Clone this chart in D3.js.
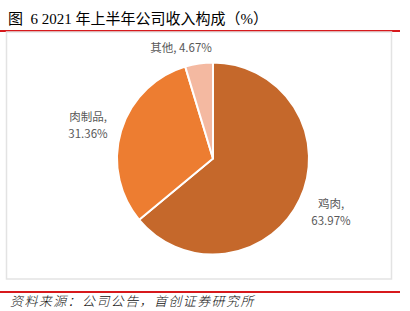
<!DOCTYPE html>
<html><head><meta charset="utf-8">
<script src="https://cdn.jsdelivr.net/npm/d3@7"></script>
<style>html,body{margin:0;padding:0;background:#fff;} text{white-space:pre;}</style>
</head><body>
<script>
const categories = ["鸡肉", "肉制品", "其他"];
const values = [63.97, 31.36, 4.67];
const labels = ["63.97%", "31.36%", "4.67%"];
const colors = ["#C5682B", "#ED7D31", "#F4B9A1"];

const W = 410, H = 311;
const svg = d3.select("body").append("svg").attr("width", W).attr("height", H);

// title
svg.append("text").attr("x", 8).attr("y", 24)
  .attr("font-family", "'Liberation Serif','Noto Sans CJK SC',serif")
  .attr("font-size", 15).attr("fill", "#000")
  .text("图  6 2021 年上半年公司收入构成（%）");
svg.append("line").attr("x1", 0).attr("x2", 400).attr("y1", 31).attr("y2", 31)
  .attr("stroke", "#D7191C").attr("stroke-width", 2);

// frame
svg.append("rect").attr("x", 6.5).attr("y", 32).attr("width", 385).attr("height", 247)
  .attr("fill", "none").attr("stroke", "#E3E3E3").attr("stroke-width", 1.5);

// pie
const cx = 213, cy = 158.5, r = 96;
const pie = d3.pie().sort(null).value(d => d)(values);
const arc = d3.arc().innerRadius(0).outerRadius(r);
const g = svg.append("g").attr("transform", `translate(${cx},${cy})`);
g.selectAll("path").data(pie).join("path")
  .attr("d", arc)
  .attr("fill", (d, i) => colors[i])
  .attr("stroke", "#fff").attr("stroke-width", 2).attr("stroke-linejoin", "round");

// labels
const labelPos = [
  {x: 331, y: 208, lines: [categories[0] + ",", labels[0]]},
  {x: 88, y: 121, lines: [categories[1] + ",", labels[1]]},
  {x: 181, y: 52, lines: [categories[2] + ", " + labels[2]]}
];
labelPos.forEach(p => {
  const t = svg.append("text").attr("text-anchor", "middle")
    .attr("font-family", "'Noto Sans CJK SC','Open Sans',sans-serif")
    .attr("font-size", 11.5).attr("fill", "#595959");
  p.lines.forEach((l, i) => t.append("tspan").attr("x", p.x).attr("y", p.y + i * 17).text(l));
});

// footer
svg.append("line").attr("x1", 0).attr("x2", 400).attr("y1", 292).attr("y2", 292)
  .attr("stroke", "#D7191C").attr("stroke-width", 2);
svg.append("text").attr("x", 10).attr("y", 306)
  .attr("font-family", "'Noto Sans CJK SC',sans-serif")
  .attr("font-style", "italic").attr("font-weight", 300)
  .attr("letter-spacing", 1.4)
  .attr("font-size", 13).attr("fill", "#111")
  .text("资料来源：公司公告，首创证券研究所");
</script>
</body></html>
